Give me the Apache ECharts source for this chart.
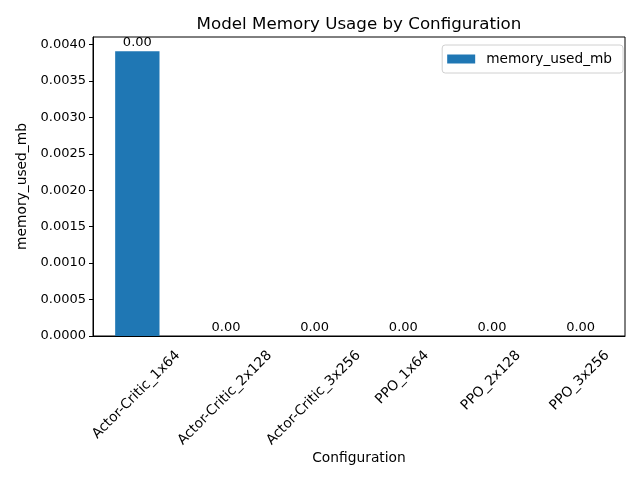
<!DOCTYPE html>
<html>
<head>
<meta charset="utf-8">
<script src="https://cdn.jsdelivr.net/npm/echarts@6/dist/echarts.min.js"></script>
<style>
  html, body { margin: 0; padding: 0; background: #fff; }
  #chart { width: 640px; height: 480px; }
</style>
</head>
<body>
<div id="chart"></div>
<script>
// data
const categories = ['Actor-Critic_1x64', 'Actor-Critic_2x128', 'Actor-Critic_3x256', 'PPO_1x64', 'PPO_2x128', 'PPO_3x256'];
const memoryUsed = [0.00390625, 0, 0, 0, 0, 0];
const yMax = 0.0041015625; // top of axis (5% headroom)

const font = 'DejaVu Sans';
const fs = 13;      // numbers
const fsText = 13.8; // words
const chart = echarts.init(document.getElementById('chart'));

chart.setOption({
  animation: false,
  textStyle: { fontFamily: font },
  title: {
    text: 'Model Memory Usage by Configuration',
    left: 354,
    textAlign: 'center',
    top: 11,
    textStyle: { fontFamily: font, fontSize: 16.7, fontWeight: 'normal', color: '#000' }
  },
  legend: {
    data: ['memory_used_mb'],
    icon: 'rect',
    right: 17,
    top: 45,
    padding: [7, 11, 7, 5],
    itemWidth: 28,
    itemHeight: 9,
    itemGap: 10,
    borderColor: '#d0d0d0',
    borderWidth: 1,
    borderRadius: 3,
    backgroundColor: 'rgba(255,255,255,0.8)',
    textStyle: { fontFamily: font, fontSize: 13.7, color: '#000', padding: [0, 0, 0, 6] }
  },
  grid: {
    left: 93, right: 15, top: 37, bottom: 144,
    show: true, borderColor: '#000', borderWidth: 1,
    containLabel: false
  },
  xAxis: {
    type: 'category',
    data: categories,
    name: 'Configuration',
    nameLocation: 'middle',
    nameGap: 115,
    nameTextStyle: { fontFamily: font, fontSize: fsText, color: '#000' },
    axisLine: { lineStyle: { color: '#000' } },
    axisTick: { alignWithLabel: true, length: 4, lineStyle: { color: '#000' } },
    axisLabel: { show: false }
  },
  yAxis: {
    type: 'value',
    min: 0,
    max: yMax,
    interval: 0.0005,
    name: 'memory_used_mb',
    nameLocation: 'middle',
    nameGap: 64,
    nameTextStyle: { fontFamily: font, fontSize: fsText, color: '#000' },
    axisLine: { show: true, lineStyle: { color: '#000' } },
    axisTick: { show: true, length: 4, lineStyle: { color: '#000' } },
    splitLine: { show: false },
    axisLabel: {
      fontFamily: font, fontSize: fs, color: '#000', margin: 7,
      showMaxLabel: false,
      formatter: v => v.toFixed(4)
    }
  },
  series: [{
    name: 'memory_used_mb',
    type: 'bar',
    data: memoryUsed,
    barWidth: '50%',
    itemStyle: { color: '#1f77b4' },
    label: {
      show: true,
      position: 'top',
      distance: 2,
      fontFamily: font,
      fontSize: fs,
      color: '#000',
      formatter: p => p.value.toFixed(2)
    }
  }]
});

// x tick labels rotated 45deg and centred under the tick (matplotlib style)
const ctx = document.createElement('canvas').getContext('2d');
ctx.font = fsText + 'px "' + font + '"';
const axisY = chart.convertToPixel({ yAxisIndex: 0 }, 0);
const lineH = 12;
const c45 = Math.SQRT1_2;
const labels = categories.map(cat => {
  const x = chart.convertToPixel({ xAxisIndex: 0 }, cat);
  const w = ctx.measureText(cat).width;
  const boxH = (w + lineH) * c45;
  return {
    type: 'text',
    x: x - 1,
    y: axisY + 13 + boxH / 2,
    rotation: Math.PI / 4,
    style: {
      text: cat,
      font: fsText + 'px "' + font + '"',
      fill: '#000',
      align: 'center',
      verticalAlign: 'middle'
    }
  };
});
chart.setOption({ graphic: labels });
</script>
</body>
</html>
